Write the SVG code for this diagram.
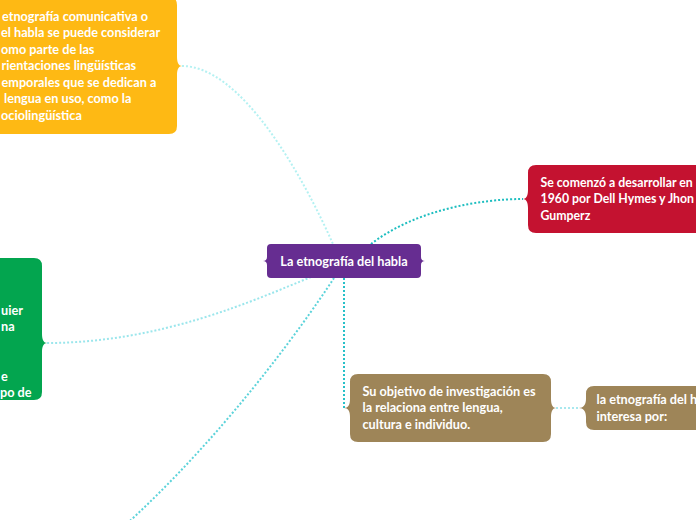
<svg xmlns="http://www.w3.org/2000/svg" width="696" height="520" viewBox="0 0 696 520">
<style>
.t{font-family:Lato,"Open Sans",sans-serif;font-weight:700;font-size:12.7px;fill:#ffffff}
.r{font-size:12.3px}
.c{fill:none;stroke-width:2;stroke-dasharray:2 2}
</style>
<rect width="696" height="520" fill="#ffffff"/>
<g id="connectors">
<path class="c" stroke="#B4F1F2" d="M182 66 C240 66 300 170 333 244"/>
<path class="c" stroke="#1EBEC0" d="M371 244 C415 210 480 199 523 199"/>
<path class="c" stroke="#9BE6EC" d="M311 277 C255 300 160 343 47 343"/>
<path class="c" stroke="#5CD3DA" d="M334 278 C300 330 220 440 120 530"/>
<path class="c" stroke="#27C0C8" d="M344 278 L344 408"/>
<path class="c" stroke="#A8E8EE" d="M556 408 L579 408"/>
</g>
<g id="node-yellow">
<path fill="#FEB914" d="M-10 -3 H169 Q177 -3 177 5 V57 C177 63 179 66 182 66 C179 66 177 69 177 75 V126 Q177 134 169 134 H-10 Z"/>
<text class="t" x="2" y="20.5">etnografía comunicativa o</text>
<text class="t" x="1" y="37">el habla se puede considerar</text>
<text class="t" x="1" y="53.5">omo parte de las</text>
<text class="t" x="1.5" y="70">rientaciones lingüísticas</text>
<text class="t" x="1.5" y="86.5">emporales que se dedican a</text>
<text class="t" x="4" y="103">lengua en uso, como la</text>
<text class="t" x="1" y="119.5">ociolingüística</text>
</g>
<g id="node-center">
<path fill="#662D91" d="M271 244 H417 Q421 244 421 248 V257 C421 259.5 422.5 261 425 261 C422.5 261 421 262.5 421 265 V274 Q421 278 417 278 H271 Q267 278 267 274 V265 C267 262.5 265.5 261 263 261 C265.5 261 267 259.5 267 257 V248 Q267 244 271 244 Z"/>
<text class="t" x="344" y="266" text-anchor="middle">La etnografía del habla</text>
</g>
<g id="node-red">
<path fill="#C41230" d="M536 165 H706 V233 H536 Q528 233 528 225 V208 C528 202 526 199 523 199 C526 199 528 196 528 190 V173 Q528 165 536 165 Z"/>
<text class="t r" x="540.5" y="186.5">Se comenzó a desarrollar en</text>
<text class="t r" x="540.5" y="203">1960 por Dell Hymes y Jhon</text>
<text class="t r" x="540.5" y="219.5">Gumperz</text>
</g>
<g id="node-green">
<path fill="#03A54F" d="M-10 258 H34 Q42 258 42 266 V334 C42 340 44 343 47 343 C44 343 42 346 42 352 V392 Q42 400 34 400 H-10 Z"/>
<text class="t" x="1" y="314.5">uier</text>
<text class="t" x="1" y="331">na</text>
<text class="t" x="1" y="380.5">e</text>
<text class="t" x="0" y="397">po de</text>
</g>
<g id="node-brown1">
<path fill="#9E8558" d="M358 374 H543 Q551 374 551 382 V399 C551 405 553 408 556 408 C553 408 551 411 551 417 V434 Q551 442 543 442 H358 Q350 442 350 434 V417 C350 411 348 408 344 408 C348 408 350 405 350 399 V382 Q350 374 358 374 Z"/>
<text class="t" x="362.5" y="395.5">Su objetivo de investigación es</text>
<text class="t" x="362.5" y="412">la relaciona entre lengua,</text>
<text class="t" x="362.5" y="428.5">cultura e individuo.</text>
</g>
<g id="node-brown2">
<path fill="#9E8558" d="M594 386 H706 V430 H594 Q586 430 586 422 V417 C586 411 583 408 579 408 C583 408 586 405 586 399 V394 Q586 386 594 386 Z"/>
<text class="t" x="596.5" y="404">la etnografía del h</text>
<text class="t" x="596.5" y="420.5">interesa por:</text>
</g>
</svg>
